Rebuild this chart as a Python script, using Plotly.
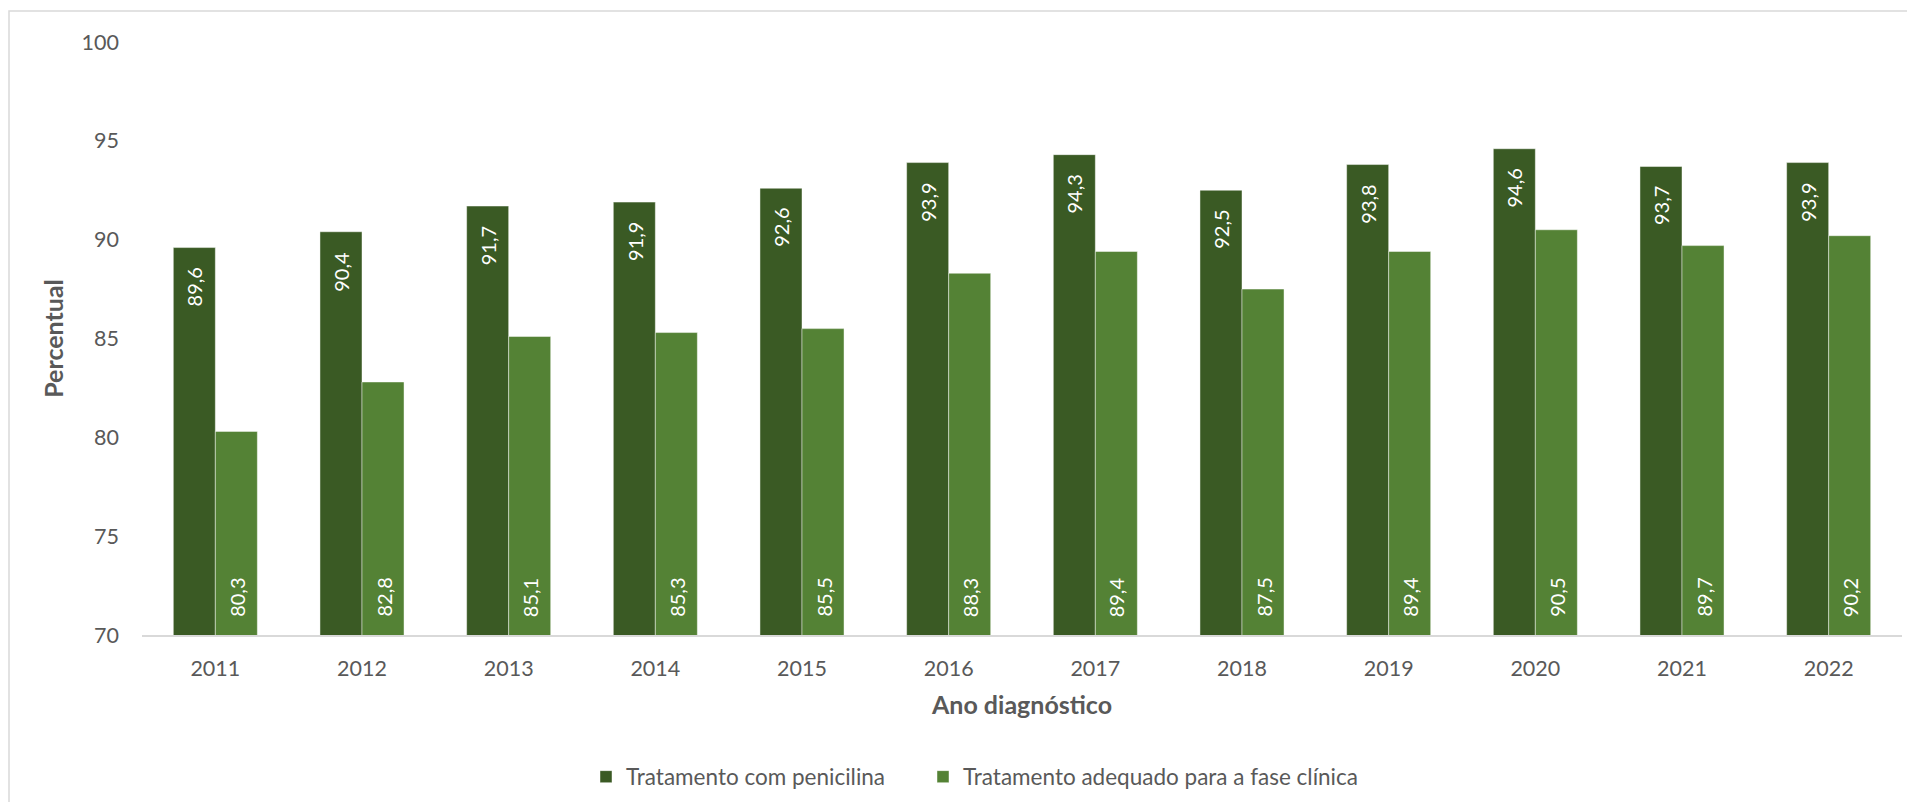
import plotly.graph_objects as go

anos = ["2011", "2012", "2013", "2014", "2015", "2016", "2017", "2018", "2019", "2020", "2021", "2022"]
penicilina = [89.6, 90.4, 91.7, 91.9, 92.6, 93.9, 94.3, 92.5, 93.8, 94.6, 93.7, 93.9]
adequado = [80.3, 82.8, 85.1, 85.3, 85.5, 88.3, 89.4, 87.5, 89.4, 90.5, 89.7, 90.2]
nomes = ["Tratamento com penicilina", "Tratamento adequado para a fase clínica"]
cores = ["#3A5A24", "#548235"]
y_min, y_max, y_step = 70, 100, 5

FONT = "Lato, 'Open Sans', sans-serif"
GRAY = "#595959"

def fmt(v):
    return f"{v:.1f}".replace(".", ",")

fig = go.Figure()
for nome, cor, vals, leg in zip(nomes, cores, [penicilina, adequado], ["legend", "legend2"]):
    fig.add_trace(go.Bar(
        x=anos, y=vals, name=nome, legend=leg,
        marker=dict(color=cor, line=dict(color="rgba(255,255,255,0.45)", width=1)),
        hoverinfo="x+y",
    ))

# data labels (rotated, white); category axis positions are given by index
for i, v in enumerate(penicilina):
    fig.add_annotation(x=i, y=v, xref="x", yref="y", text=fmt(v), showarrow=False,
                       textangle=-90, xanchor="center", yanchor="top", xshift=-21, yshift=-18,
                       font=dict(family=FONT, size=20, color="white"))
for i, v in enumerate(adequado):
    fig.add_annotation(x=i, y=y_min, xref="x", yref="y", text=fmt(v), showarrow=False,
                       textangle=-90, xanchor="center", yanchor="bottom", xshift=21, yshift=16,
                       font=dict(family=FONT, size=20, color="white"))

# figure sits inside the page's 8px body margin
OFF = 8
W, H = 1915 - 2 * OFF, 810 - 2 * OFF
L = 142 - OFF
T = 42 - OFF
R = W - (1902 - OFF)
B = H - (635 - OFF)
pw, ph = W - L - R, H - T - B

def px_x(p):
    return (p - OFF - L) / pw

def px_y(p):
    return (H - B - (p - OFF)) / ph

fig.add_shape(type="rect", xref="paper", yref="paper",
              x0=px_x(9), x1=px_x(1940), y0=px_y(11), y1=px_y(840),
              line=dict(color="#D9D9D9", width=1.5), fillcolor="rgba(0,0,0,0)", layer="below")

legend_style = dict(orientation="h", xanchor="left", y=px_y(777), yanchor="middle",
                    font=dict(family=FONT, size=22.5, color=GRAY), itemwidth=30,
                    bgcolor="rgba(0,0,0,0)")

fig.update_layout(
    width=W, height=H,
    margin=dict(l=L, r=R, t=T, b=B, autoexpand=False),
    paper_bgcolor="white", plot_bgcolor="white",
    barmode="group", bargap=0.427, bargroupgap=0,
    font=dict(family=FONT, size=21, color=GRAY),
    showlegend=True,
    legend=dict(x=px_x(586), **legend_style),
    legend2=dict(x=px_x(923), **legend_style),
    xaxis=dict(
        type="category", range=[-0.5, len(anos) - 0.5], autorange=False,
        showgrid=False, showline=True, linecolor="#D9D9D9", linewidth=1.5,
        ticks="", ticklabelstandoff=13,
        tickfont=dict(family=FONT, size=21.5, color=GRAY),
        title=dict(text="<b>Ano diagnóstico</b>", standoff=17,
                   font=dict(family=FONT, size=25, color=GRAY)),
        automargin=False,
    ),
    yaxis=dict(
        range=[y_min, y_max], autorange=False, dtick=y_step, showgrid=False, showline=False, zeroline=False,
        ticks="", ticklabelstandoff=22,
        tickfont=dict(family=FONT, size=21.5, color=GRAY),
        title=dict(text="<b>Percentual</b>", standoff=10,
                   font=dict(family=FONT, size=25, color=GRAY)),
        automargin=False,
    ),
)

fig.write_html("out.html")
